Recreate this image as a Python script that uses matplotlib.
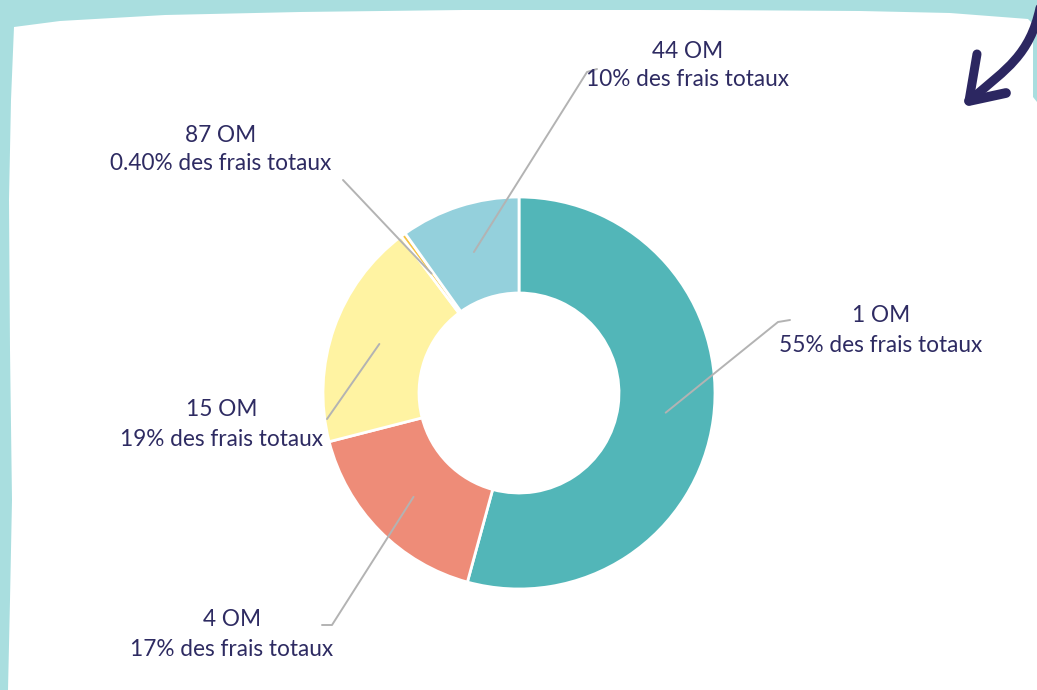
import numpy as np
import matplotlib
matplotlib.use("Agg")
import matplotlib.pyplot as plt
from matplotlib.patches import Polygon, PathPatch
from matplotlib.path import Path

# ---- data ----
labels_top = ["1 OM", "4 OM", "15 OM", "87 OM", "44 OM"]
labels_pct = ["55% des frais totaux", "17% des frais totaux", "19% des frais totaux",
              "0.40% des frais totaux", "10% des frais totaux"]
shares = [55, 17, 19, 0.4, 10]
colors = ["#52B6B8", "#EE8C78", "#FFF3A2", "#F5C443", "#94D0DC"]

W, H = 1037, 690
TEXT = "#2E2B62"
NAVY = "#2C2761"
BORDER = "#A9DEDF"
LEADER = "#B3B3B3"

fig = plt.figure(figsize=(W / 100, H / 100), dpi=100, facecolor=BORDER)
ax = fig.add_axes([0, 0, 1, 1])

def P(x, y):
    return (x, H - y)

# white brushed card
card = [(14, 27), (60, 21), (165, 15), (300, 12), (463, 10), (700, 10), (860, 11),
        (950, 13), (1028, 19), (1033, 24), (1033, 97), (1037, 102), (1037, 690),
        (8, 690), (10, 600), (12, 500), (10, 350), (9, 200), (11, 100)]
ax.add_patch(Polygon([P(x, y) for x, y in card], closed=True, facecolor="white",
                     edgecolor="none", zorder=0))

# donut
cx, cy = 519, 393
R, r_in = 196, 100
wedges, _ = ax.pie(shares, colors=colors, startangle=90, counterclock=False,
                   radius=R, center=P(cx, cy),
                   wedgeprops=dict(width=R - r_in, edgecolor="white", linewidth=2))
for w in wedges:
    w.set_zorder(2)

# label layout: (text center x, first line y, leader path after anchor)
layout = {
    "1 OM": (881, 316, [(778, 322), (790, 320)]),
    "4 OM": (232, 620, [(332, 625), (322, 625)]),
    "15 OM": (222, 410, [(327, 419)]),
    "87 OM": (221, 135, [(343, 180)]),
    "44 OM": (688, 51, [(587, 72), (597, 69)]),
}
rm = (R + r_in) / 2
for w, lt, lp in zip(wedges, labels_top, labels_pct):
    mid = np.deg2rad((w.theta1 + w.theta2) / 2)
    ax_x = cx + rm * np.cos(mid)
    ax_y = cy - rm * np.sin(mid)
    tx, ty, path = layout[lt]
    pts = [(ax_x, ax_y)] + path
    xs = [p[0] for p in pts]
    ys = [H - p[1] for p in pts]
    ax.plot(xs, ys, color=LEADER, lw=1.4, zorder=3, solid_capstyle="round")
    ax.text(*P(tx, ty), lt, ha="center", va="center", fontsize=16.3,
            family="Lato", color=TEXT, zorder=4)
    ax.text(*P(tx, ty + 29), lp, ha="center", va="center", fontsize=16.3,
            family="Lato", color=TEXT, zorder=4)

# decorative arrow (top right)
shaft = Path([P(1040, 8), P(1030, 55), P(1005, 70), P(975, 96)],
             [Path.MOVETO, Path.CURVE4, Path.CURVE4, Path.CURVE4])
ax.add_patch(PathPatch(shaft, facecolor="none", edgecolor=NAVY, lw=6.5,
                       capstyle="round", zorder=5))
ax.plot([977, 969], [H - 54, H - 101], color=NAVY, lw=6.5, solid_capstyle="round", zorder=5)
ax.plot([969, 1006], [H - 101, H - 93], color=NAVY, lw=7, solid_capstyle="round", zorder=5)

ax.set_xlim(0, W)
ax.set_ylim(0, H)
ax.set_aspect("auto")
ax.axis("off")

fig.savefig("out.png", dpi=100, facecolor=BORDER)
